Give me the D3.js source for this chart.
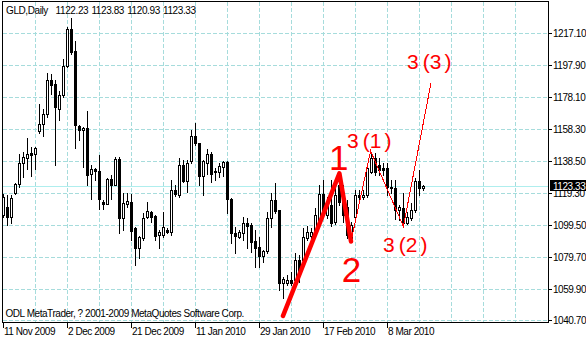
<!DOCTYPE html>
<html><head><meta charset="utf-8">
<script src="https://cdn.jsdelivr.net/npm/d3@7/dist/d3.min.js"></script>
<style>html,body{margin:0;padding:0;background:#fff;}svg{display:block;}</style>
</head><body><svg id="c" width="586" height="340"></svg>
<script>
// ---- data ----
const opens = [1105.6,1110.3,1104.3,1119.1,1124.6,1137.5,1140.6,1143.7,1143.0,1157.2,
1161.5,1167.6,1188.5,1186.1,1170.7,1179.3,1197.1,1219.9,1206.3,1160.3,
1157.8,1159.0,1130.8,1133.8,1132.6,1113.5,1112.3,1127.7,1124.0,1140.0,
1103.7,1112.3,1113.5,1097.6,1085.3,1091.4,1104.3,1107.4,1104.9,1093.3,
1093.3,1096.3,1095.1,1120.9,1117.9,1136.3,1126.4,1138.7,1154.1,1149.8,
1129.5,1137.5,1143.0,1132.6,1132.0,1135.1,1138.1,1115.4,1094.5,1092.0,
1094.5,1100.6,1099.4,1089.6,1085.9,1080.4,1083.4,1103.7,1114.8,1108.6,
1063.8,1063.8,1065.6,1065.6,1077.9,1077.9,1091.4,1092.7,1095.1,1102.5,
1118.5,1105.6,1111.7,1101.3,1124.0,1117.9,1110.5,1091.4,1104.3,1117.9,
1116.6,1117.9,1132.0,1140.6,1136.3,1134.5,1134.5,1122.8,1122.2,1108.6,
1109.9,1100.6,1103.7,1108.6,1126.4,1122.23];
const highs = [1118.5,1117.8,1117.8,1125.2,1143.0,1144.3,1152.9,1147.4,1147.4,1173.8,
1170.7,1192.8,1192.2,1188.5,1181.8,1201.4,1221.1,1226.6,1212.5,1160.9,
1159.6,1169.5,1136.3,1134.5,1142.4,1114.8,1128.3,1130.1,1141.2,1141.2,
1119.1,1119.1,1118.5,1098.2,1092.7,1106.8,1113.5,1108.0,1105.6,1096.3,
1107.4,1097.6,1127.1,1124.0,1140.6,1139.4,1139.4,1157.8,1162.1,1149.8,
1139.4,1146.1,1144.3,1134.5,1137.5,1138.7,1138.7,1116.0,1098.2,1096.3,
1104.3,1103.7,1100.6,1096.3,1092.0,1084.0,1107.4,1119.1,1125.2,1108.6,
1067.4,1068.7,1070.5,1082.2,1080.9,1097.6,1098.8,1097.6,1109.9,1124.0,
1127.1,1116.6,1127.1,1122.1,1130.1,1124.0,1114.8,1101.3,1120.9,1120.9,
1120.9,1137.5,1144.3,1143.7,1140.6,1137.5,1137.5,1127.1,1127.1,1111.7,
1119.1,1107.4,1112.9,1128.3,1133.2,1123.83];
const lows = [1104.3,1099.4,1100.6,1118.5,1122.8,1128.9,1133.8,1129.5,1133.8,1155.9,
1154.1,1165.8,1179.9,1136.3,1163.9,1178.1,1196.5,1204.5,1146.7,1151.7,
1135.1,1124.0,1115.4,1127.1,1109.2,1109.2,1112.0,1115.4,1123.7,1094.5,
1096.3,1110.5,1090.2,1074.8,1079.1,1090.2,1104.0,1101.3,1090.2,1085.3,
1092.0,1094.5,1093.3,1117.2,1116.6,1125.8,1119.7,1137.5,1148.6,1124.0,
1117.9,1130.8,1125.8,1127.1,1128.9,1129.5,1106.8,1088.3,1082.2,1091.4,
1090.2,1085.3,1082.8,1073.6,1073.6,1076.7,1082.2,1098.2,1106.8,1059.5,
1054.6,1062.5,1062.5,1062.5,1064.4,1076.7,1090.2,1091.4,1092.7,1101.3,
1105.6,1103.7,1098.8,1100.0,1111.7,1101.3,1091.4,1088.9,1103.7,1112.9,
1115.4,1116.6,1131.4,1130.1,1130.1,1130.1,1117.9,1119.1,1103.1,1102.5,
1098.2,1100.3,1102.5,1107.4,1117.9,1120.93];
const closes = [1116.6,1104.3,1116.0,1124.6,1137.5,1141.2,1143.0,1142.4,1146.7,1161.5,
1167.6,1188.5,1185.5,1171.9,1179.3,1197.1,1219.9,1205.7,1160.9,1157.8,
1159.0,1130.1,1133.8,1132.6,1115.4,1112.3,1127.7,1124.0,1140.0,1103.7,
1112.9,1114.2,1095.7,1085.3,1092.0,1103.7,1108.0,1104.3,1092.7,1095.1,
1098.2,1095.1,1120.9,1118.5,1136.3,1126.4,1137.5,1154.1,1149.8,1129.5,
1138.7,1143.0,1130.8,1132.0,1135.7,1138.1,1115.4,1094.5,1092.7,1095.1,
1100.6,1098.8,1088.9,1085.3,1080.4,1083.4,1103.7,1114.8,1108.0,1063.8,
1066.2,1065.6,1063.8,1077.9,1070.5,1092.0,1095.1,1095.1,1105.6,1118.5,
1107.4,1111.7,1100.6,1117.9,1113.5,1105.6,1093.3,1099.4,1117.9,1116.6,
1117.9,1134.5,1140.6,1132.0,1133.2,1133.2,1122.8,1122.2,1108.6,1110.5,
1100.6,1104.3,1108.6,1126.4,1122.2,1123.33];

const dateLabels = ["11 Nov 2009","2 Dec 2009","21 Dec 2009","11 Jan 2010","29 Jan 2010","17 Feb 2010","8 Mar 2010"];
const dateBars = [0,16,32,48,64,80,96];
const priceTicks = [1217.10,1197.90,1178.10,1158.30,1138.50,1119.30,1099.50,1079.70,1059.90,1040.70];
const lastPrice = 1123.33;
const headerName = "GLD,Daily";
const headerValues = ["1122.23","1123.83","1120.93","1123.33"];
const copyright = "ODL MetaTrader, ? 2001-2009 MetaQuotes Software Corp.";

// wave trendlines (bar index, price)
const waveBars12 = [70, 84.1, 87];
const wavePrices12 = [1043.5, 1131.1, 1089.3];
const waveBars3 = [87, 91.9, 100.1, 107];
const wavePrices3 = [1089.3, 1144.9, 1098.5, 1186.7];

// wave labels
const bigLabels = ["1","2"];
const bigBars = [81.5, 84.7];
const bigPrices = [1133.2, 1064.6];
const subLabels = [["3","1"],["3","2"],["3","3"]];
const subBars = [86, 95, 101];
const subPrices = [1147.0, 1082.5, 1195.0];

// ---- drawing ----
const svg = d3.select("#c");
const FONT = "'Liberation Sans', Arial, sans-serif";
const xS = d3.scaleLinear().domain([0,105]).range([3,423]);
const yS = d3.scaleLinear().domain([1040.7,1217.1]).range([320.5,33.5]);
const L = 2, R = 548, T = 1, B = 322;
const GRID = "#a6dcdc";

svg.append("rect").attr("width",586).attr("height",340).attr("fill","#fff");

const grid = svg.append("g").attr("shape-rendering","crispEdges");
// vertical grid every 8 bars
const vBars = d3.range(8, 136, 8);
grid.selectAll("line.v").data(vBars).join("line")
  .attr("x1",d=>xS(d)+0.5).attr("x2",d=>xS(d)+0.5)
  .attr("y1",T+1).attr("y2",B)
  .attr("stroke",GRID).attr("stroke-dasharray","4,2");
const rowOf = p => Math.round(yS(p)-0.1);
grid.selectAll("line.h").data(priceTicks).join("line")
  .attr("x1",L+1).attr("x2",R)
  .attr("y1",d=>rowOf(d)+0.5).attr("y2",d=>rowOf(d)+0.5)
  .attr("stroke",GRID).attr("stroke-dasharray","4,2");

// current price line
const lpRow = Math.round(yS(lastPrice)-0.1);
grid.append("line").attr("x1",L+1).attr("x2",R).attr("y1",lpRow+0.5).attr("y2",lpRow+0.5)
  .attr("stroke","#afeeee");

// candles
const bars = d3.range(opens.length).map(i=>({i,o:opens[i],h:highs[i],l:lows[i],c:closes[i]}));
const cg = svg.append("g").attr("shape-rendering","crispEdges");
cg.selectAll("line.wick").data(bars).join("line")
  .attr("x1",d=>xS(d.i)+0.5).attr("x2",d=>xS(d.i)+0.5)
  .attr("y1",d=>Math.round(yS(d.h))).attr("y2",d=>Math.round(yS(d.l))+1)
  .attr("stroke","#000");
cg.selectAll("rect.body").data(bars).join("rect")
  .each(function(d){
    const top = Math.round(yS(Math.max(d.o,d.c)));
    const bot = Math.round(yS(Math.min(d.o,d.c)));
    const s = d3.select(this);
    if (d.c >= d.o) {
      s.attr("x",xS(d.i)-0.5).attr("y",top+0.5).attr("width",2).attr("height",Math.max(bot-top,1))
       .attr("fill","#fff").attr("stroke","#000");
    } else {
      s.attr("x",xS(d.i)-1).attr("y",top).attr("width",3).attr("height",bot-top+1)
       .attr("fill","#000");
    }
  });

// wave lines
const lineGen = d3.line().x(d=>xS(d[0])).y(d=>yS(d[1]));
svg.append("path").datum(waveBars12.map((b,k)=>[b,wavePrices12[k]]))
  .attr("d",lineGen).attr("fill","none").attr("stroke","#ff0000").attr("stroke-width",4.5)
  .attr("stroke-linejoin","round").attr("stroke-linecap","round");
svg.append("path").datum(waveBars3.map((b,k)=>[b,wavePrices3[k]]))
  .attr("d",lineGen).attr("fill","none").attr("stroke","#ff0000").attr("stroke-width",1)
  .attr("shape-rendering","crispEdges");

// wave labels
svg.selectAll("text.big").data(bigLabels).join("text")
  .attr("x",(d,k)=>xS(bigBars[k])).attr("y",(d,k)=>yS(bigPrices[k]))
  .attr("font-family",FONT).attr("font-size",35).attr("fill","#ff0000").text(d=>d);
const sub = svg.selectAll("text.sub").data(subLabels).join("text")
  .attr("x",(d,k)=>xS(subBars[k])).attr("y",(d,k)=>yS(subPrices[k]))
  .attr("font-family",FONT).attr("font-size",21).attr("fill","#ff0000");
sub.append("tspan").text(d=>d[0]);
sub.append("tspan").attr("dx",4).text("(");
sub.append("tspan").text(d=>d[1]);
sub.append("tspan").attr("dx",3).text(")");

// header
const hdr = svg.append("text").attr("y",14).attr("font-family",FONT).attr("font-size",10)
  .attr("letter-spacing",-0.4).attr("fill","#000");
hdr.append("tspan").attr("x",6).text(headerName);
headerValues.forEach((v,k)=>hdr.append("tspan").attr("x",55.6+35.8*k).text(v));

// copyright
svg.append("text").attr("x",5.5).attr("y",317).attr("font-family",FONT).attr("font-size",10)
  .attr("letter-spacing",-0.45).attr("fill","#000").text(copyright);

// right axis
const ax = svg.append("g");
ax.selectAll("line.t").data(priceTicks).join("line").attr("shape-rendering","crispEdges")
  .attr("x1",R).attr("x2",R+4).attr("y1",d=>rowOf(d)+0.5).attr("y2",d=>rowOf(d)+0.5).attr("stroke","#000");
ax.selectAll("text.p").data(priceTicks).join("text")
  .attr("x",R+5).attr("y",d=>rowOf(d)+4)
  .attr("font-family",FONT).attr("font-size",10).attr("letter-spacing",-0.45).attr("fill","#000")
  .text(d=>d.toFixed(2));
// last price box
ax.append("rect").attr("x",R+2).attr("y",lpRow-6).attr("width",586-R-2).attr("height",11).attr("fill","#000");
ax.append("text").attr("x",R+5).attr("y",lpRow+4)
  .attr("font-family",FONT).attr("font-size",10).attr("letter-spacing",-0.45).attr("fill","#fff")
  .text(lastPrice.toFixed(2));

// bottom axis
ax.selectAll("line.d").data(dateBars).join("line").attr("shape-rendering","crispEdges")
  .attr("x1",d=>xS(d)+0.5).attr("x2",d=>xS(d)+0.5).attr("y1",B).attr("y2",B+6).attr("stroke","#000");
ax.selectAll("text.d").data(dateLabels).join("text")
  .attr("x",(d,k)=>xS(dateBars[k])+1).attr("y",335)
  .attr("font-family",FONT).attr("font-size",10).attr("letter-spacing",-0.45).attr("fill","#000")
  .text(d=>d);

// frame
svg.append("rect").attr("x",L+0.5).attr("y",T+0.5).attr("width",R-L).attr("height",B-T)
  .attr("fill","none").attr("stroke","#000").attr("shape-rendering","crispEdges");
</script></body></html>
